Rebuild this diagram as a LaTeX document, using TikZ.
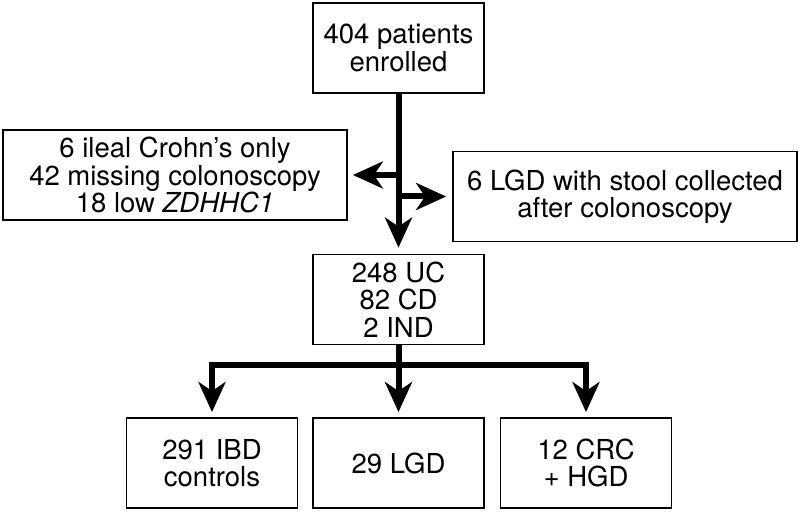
\documentclass[tikz,border=0pt]{standalone}
\usepackage{fontspec}
\setmainfont{TeX Gyre Heros}
\usetikzlibrary{arrows.meta,positioning}

\tikzset{
  box/.style={draw,line width=1.8pt,align=center,inner sep=0pt,
    minimum width=171pt,minimum height=90pt,
    font=\fontsize{27.5}{27.5}\selectfont},
  widebox/.style={box,minimum width=344pt},
  fat/.tip={Stealth[length=30pt,width=27pt,inset=9pt]},
  flow/.style={line width=6pt,-fat},
}

\begin{document}
\begin{tikzpicture}[x=1pt,y=1pt]
\useasboundingbox (0,0) rectangle (800,512);
\node[box] (enrolled) at (398.5,464) {404 patients\\enrolled};
\node[widebox] (excluded) at (175,337)
     {6 ileal Crohn’s only\\42 missing colonoscopy\\18 low \textit{ZDHHC1}};
\node[widebox] (stool) at (625,315.5)
     {6 LGD with stool collected\\after colonoscopy};
\node[box] (cohort) at (398.5,212.5) {248 UC\\82 CD\\2 IND};
\node[box] (ibd) at (212,49) {291 IBD\\controls};
\node[box] (lgd) at (398.5,49) {29 LGD};
\node[box] (crc) at (586,49) {12 CRC\\+ HGD};
% exclusions
\draw[flow,shorten >=6pt] (enrolled.south) -- (cohort.north);
\draw[flow,shorten >=5pt] (enrolled.south |- excluded.east) -- (excluded.east);
\draw[flow,shorten >=6pt] (enrolled.south |- stool.west) -- (stool.west);
% split into groups
\coordinate (split) at ([yshift=-20pt]cohort.south);
\draw[line width=6pt] (cohort.south) -- (split);
\draw[flow,fat-fat,shorten <=5pt,shorten >=5pt] (ibd.north) -- (ibd.north |- split)
     -- (crc.north |- split) -- (crc.north);
\draw[flow,shorten >=5pt] (split) -- (lgd.north);
\end{tikzpicture}
\end{document}
